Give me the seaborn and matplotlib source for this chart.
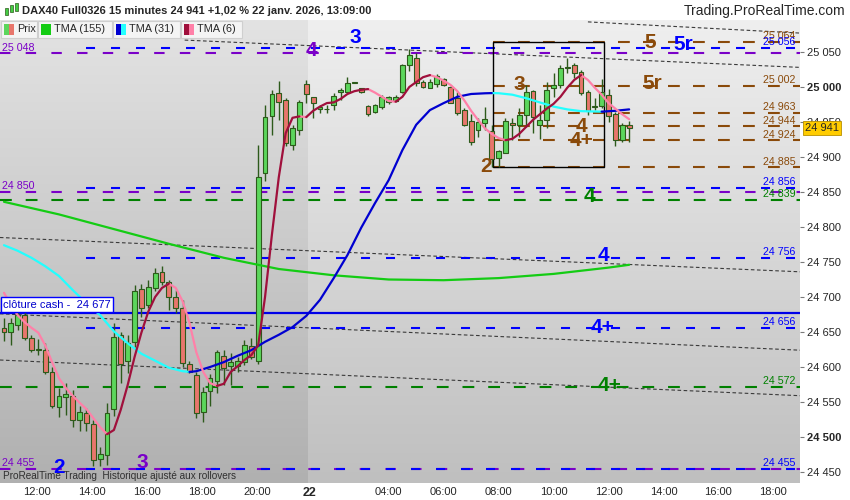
import numpy as np
import pandas as pd
import matplotlib
matplotlib.use("Agg")
import matplotlib.pyplot as plt
import matplotlib.transforms as mtransforms
from matplotlib.colors import LinearSegmentedColormap
from matplotlib.patches import Rectangle
import seaborn as sns

sns.set_style("white")
plt.rcParams['font.family'] = ['Liberation Sans', 'DejaVu Sans']
plt.rcParams['lines.scale_dashes'] = False
plt.rcParams['axes.unicode_minus'] = False

# 15 min bars, 21 janv. (from 10:45) then 22 janv. (from 01:00)
opens = [24656, 24650, 24660, 24674, 24641, 24625, 24625, 24593, 24543, 24557,
         24558, 24525, 24534, 24518, 24468, 24474, 24540, 24646, 24608, 24636,
         24711, 24689, 24713, 24736, 24722, 24700, 24684, 24604, 24589, 24536,
         24566, 24580, 24616, 24601, 24602, 24607, 24630, 24608, 24877, 24958,
         24992, 24982, 24917, 24938, 25004, 24985, 24969, 24968, 24974, 24993,
         24993, 25006, 24998, 24973, 24964, 24971, 24978, 24980, 24993, 25031,
         25041, 25007, 24998, 25004, 25011, 25000, 24984, 24967, 24951, 24938,
         24949, 24937, 24898, 24906, 24949, 24946, 24960, 24994, 24946, 24953,
         24998, 25003, 25027, 25031, 25022, 24993, 24971, 24973, 24988, 24962,
         24924, 24945]
highs = [24670, 24670, 24678, 24684, 24646, 24640, 24634, 24600, 24570, 24577,
         24567, 24544, 24541, 24524, 24486, 24548, 24663, 24650, 24646, 24717,
         24719, 24724, 24741, 24744, 24724, 24710, 24696, 24608, 24593, 24572,
         24590, 24624, 24624, 24620, 24615, 24638, 24641, 24917, 24974, 24996,
         25009, 24984, 24946, 24981, 25010, 24986, 24974, 24974, 24992, 24998,
         25014, 25007, 24999, 24974, 24975, 24988, 24987, 24988, 25033, 25054,
         25048, 25010, 25012, 25018, 25013, 25003, 24993, 24970, 24962, 24955,
         24971, 24945, 24910, 24955, 24956, 24970, 25003, 24996, 24974, 25007,
         25020, 25032, 25041, 25034, 25024, 24996, 24984, 25011, 24997, 24964,
         24949, 24952]
lows = [24637, 24631, 24653, 24639, 24622, 24617, 24590, 24541, 24529, 24531,
        24515, 24508, 24508, 24459, 24459, 24460, 24530, 24577, 24591, 24629,
        24672, 24684, 24709, 24717, 24681, 24677, 24600, 24591, 24527, 24522,
        24545, 24563, 24574, 24574, 24593, 24603, 24612, 24605, 24865, 24931,
        24953, 24915, 24910, 24931, 24977, 24955, 24963, 24963, 24967, 24981,
        24992, 25005, 24992, 24958, 24963, 24969, 24976, 24978, 24992, 25023,
        25002, 24998, 24998, 25000, 25001, 24977, 24960, 24944, 24917, 24929,
        24938, 24885, 24886, 24905, 24924, 24929, 24943, 24934, 24925, 24941,
        24985, 24998, 25020, 25013, 24989, 24960, 24967, 24970, 24950, 24915,
        24922, 24922]
closes = [24650, 24663, 24674, 24642, 24624, 24626, 24593, 24544, 24558, 24561,
          24524, 24536, 24520, 24467, 24476, 24535, 24643, 24605, 24634, 24708,
          24684, 24714, 24734, 24721, 24700, 24684, 24606, 24593, 24534, 24565,
          24584, 24622, 24598, 24607, 24608, 24631, 24615, 24871, 24957, 24990,
          24978, 24920, 24941, 24979, 24990, 24977, 24971, 24969, 24987, 24995,
          25005, 25006, 24993, 24961, 24974, 24986, 24985, 24985, 25031, 25046,
          25005, 25000, 25007, 25015, 25003, 24977, 24963, 24946, 24922, 24950,
          24954, 24897, 24908, 24952, 24946, 24960, 24993, 24957, 24953, 24996,
          25003, 25027, 25028, 25020, 24991, 24965, 24973, 24993, 24958, 24924,
          24946, 24941]

tma6 = [24706, 24689, 24674, 24664, 24656, 24649, 24631, 24607, 24584, 24570,
        24559, 24549, 24540, 24527, 24514, 24504, 24510, 24539, 24574, 24614,
        24649, 24679, 24700, 24713, 24719, 24713, 24694, 24663, 24621, 24593,
        24577, 24573, 24576, 24593, 24601, 24610, 24617, 24631, 24700, 24789,
        24871, 24934, 24956, 24958, 24957, 24966, 24972, 24977, 24978, 24983,
        24990, 24994, 24996, 24997, 24992, 24986, 24980, 24979, 24986, 25000,
        25007, 25014, 25017, 25014, 25009, 25003, 24994, 24981, 24966, 24953,
        24941, 24933, 24927, 24924, 24926, 24933, 24943, 24953, 24961, 24969,
        24976, 24986, 24999, 25010, 25017, 25010, 24999, 24989, 24977, 24969,
        24961, 24954]

tma31_bar = [0, 2, 4, 6, 8, 10, 12, 14, 16, 18, 20, 22, 24, 26, 27, 28, 30, 32,
             34, 36, 38, 40, 42, 44, 46, 48, 50, 52, 54, 56, 58, 60, 62, 64, 66,
             68, 70, 71, 72, 74, 76, 78, 80, 82, 84, 86, 87, 89, 91]
tma31 = [24774, 24766, 24756, 24744, 24730, 24710, 24691, 24674, 24651, 24634,
         24619, 24609, 24599, 24594, 24593, 24594, 24600, 24607, 24616, 24624,
         24636, 24646, 24657, 24673, 24696, 24727, 24760, 24799, 24834, 24867,
         24910, 24946, 24967, 24977, 24986, 24990, 24991, 24991.3, 24991.1, 24989,
         24984, 24978, 24972, 24968, 24965.5, 24965, 24964.8, 24966, 24968]

tma155_bar = [0, 8, 16, 24, 32, 40, 48, 56, 64, 72, 80, 88, 91]
tma155 = [24836, 24818, 24797, 24776, 24756, 24740, 24731, 24725, 24724, 24727,
          24733, 24742, 24746]

time_labels = ['12:00', '14:00', '16:00', '18:00', '20:00', '22', '04:00', '06:00',
               '08:00', '10:00', '12:00', '14:00', '16:00', '18:00']

level_prices = [25064, 25056, 25048, 25002, 24963, 24944, 24924, 24885,
                24856, 24850, 24839, 24756, 24656, 24572, 24455, 24455]
level_kinds = ['brown', 'blue', 'purple', 'brown', 'brown', 'brown', 'brown', 'brown',
               'blue', 'purple', 'green', 'blue', 'blue', 'green', 'purple', 'blue']
cash_close = 24677
last_price = 24941

wave_texts = ['4', '3', '5', '5r', '3', '5r', '4', '4+', '2', '4', '4', '4+', '4+', '2', '3']
wave_kinds = ['purple', 'blue', 'brown', 'blue', 'brown', 'brown', 'brown', 'brown',
              'brown', 'green', 'blue', 'blue', 'green', 'blue', 'purple']
wave_bar = [44.8, 51.1, 94.0, 98.9, 75.0, 94.3, 84.1, 84.1, 70.2, 85.2, 87.2, 87.2, 88.2, 8.0, 20.2]
wave_price = [25052, 25070, 25063, 25060, 25003, 25005, 24944, 24924, 24886,
              24843, 24760, 24657, 24573, 24457, 24464]

# dotted channel lines (bar, price) -> (bar, price)
trend_b0 = [26.3, 85.0, -0.6, -0.6, -0.6]
trend_p0 = [25067, 25093, 24785, 24676, 24610]
trend_b1 = [115.9, 115.9, 115.9, 115.9, 115.9]
trend_p1 = [25028, 25077, 24736, 24624, 24559]

box_bars = [71.2, 87.3]
box_prices = [24885, 25064]

# ---- styling ----
COL = {'brown': '#8a4a0a', 'blue': '#0000ff', 'purple': '#7a00c8', 'green': '#008000'}
DASH = {'brown': (0, (8.5, 9.5)), 'blue': (0, (6.5, 11.5)),
        'purple': (0, (7.5, 11)), 'green': (0, (8.5, 10))}
LEVEL_START = {'brown': box_bars[0], 'blue': 12, 'purple': -1, 'green': -1}
XMIN, XMAX = -0.58, 115.87
YMIN, YMAX = 24434.3, 25095.7
SPLIT = 44.3


def fmt(p):
    return f"{int(round(p)):,}".replace(",", " ")


def dir_runs(xs, ys):
    rows, run, prev = [], 0, None
    for k in range(len(xs) - 1):
        d = 'up' if ys[k + 1] >= ys[k] else 'down'
        if d != prev:
            run += 1
            prev = d
            rows.append((xs[k], ys[k], run, d))
        rows.append((xs[k + 1], ys[k + 1], run, d))
    return pd.DataFrame(rows, columns=['i', 'v', 'run', 'dir'])


fig = plt.figure(figsize=(8.5, 5), dpi=100)
fig.patch.set_facecolor('white')
ax = fig.add_axes([0, 17 / 500, 800 / 850, 463 / 500])

# background gradients (previous day darker)
grad = np.linspace(0, 1, 256).reshape(-1, 1)
for x0, x1, top, bot in [(XMIN, SPLIT, '#e3e3e3', '#b0b0b0'), (SPLIT, XMAX, '#efefef', '#bfbfbf')]:
    cmap = LinearSegmentedColormap.from_list('bg', [top, bot])
    ax.imshow(grad, cmap=cmap, aspect='auto', extent=[x0, x1, YMIN, YMAX],
              origin='upper', zorder=0, interpolation='bilinear')

# channel lines
for b0, p0, b1, p1 in zip(trend_b0, trend_p0, trend_b1, trend_p1):
    ax.plot([b0, b1], [p0, p1], color='#3a3a3a', lw=0.8, ls=(0, (2.6, 1.8)), zorder=1.5)

# horizontal levels
blend = mtransforms.blended_transform_factory(ax.transAxes, ax.transData)
for p, kind in zip(level_prices, level_kinds):
    start = max(LEVEL_START[kind], XMIN)
    ax.plot([start, XMAX], [p, p], color=COL[kind], lw=1.5, ls=DASH[kind], zorder=2)
    if kind == 'purple':
        ax.annotate(fmt(p), xy=(0, p), xycoords=blend, xytext=(1.5, 0.5),
                    textcoords='offset points', ha='left', va='bottom',
                    fontsize=7.7, color=COL[kind], zorder=5)
    else:
        ax.annotate(fmt(p), xy=(1, p), xycoords=blend, xytext=(-3, 0.5),
                    textcoords='offset points', ha='right', va='bottom',
                    fontsize=7.7, color=COL[kind], zorder=5)

ax.axhline(cash_close, color='#0000e8', lw=1.6, zorder=2)
ax.annotate(f"clôture cash -  {fmt(cash_close)}", xy=(0, cash_close), xycoords=blend,
            xytext=(2.5, 2.5), textcoords='offset points', ha='left', va='bottom',
            fontsize=8, color='#0000cc', zorder=6,
            bbox=dict(boxstyle='square,pad=0.2', fc='white', ec='#0000ff', lw=1))

ax.add_patch(Rectangle((box_bars[0], box_prices[0]), box_bars[1] - box_bars[0],
                       box_prices[1] - box_prices[0], fill=False, ec='black', lw=1, zorder=2.5))

# candles
candles = pd.DataFrame({'o': opens, 'h': highs, 'l': lows, 'c': closes})
candles['i'] = np.arange(len(candles))
candles['up'] = candles['c'] >= candles['o']
ax.vlines(candles['i'], candles['l'], candles['h'], color='#2d5a1b', lw=1.0, zorder=3)
ax.bar(candles['i'], np.maximum((candles['c'] - candles['o']).abs(), 1.0),
       bottom=np.minimum(candles['o'], candles['c']), width=0.7,
       color=np.where(candles['up'], '#5cd65c', '#e8766c'),
       edgecolor='#2d5a1b', linewidth=0.8, zorder=3.2)

# moving averages
sns.lineplot(x=tma155_bar, y=tma155, color='#14cc14', linewidth=1.6, ax=ax, zorder=4)
df31 = dir_runs(tma31_bar, tma31)
sns.lineplot(data=df31, x='i', y='v', hue='dir', units='run', estimator=None, sort=False,
             palette={'up': '#0000d0', 'down': '#22ffff'}, legend=False, linewidth=1.6,
             ax=ax, zorder=4)
df6 = dir_runs(list(range(len(tma6))), tma6)
sns.lineplot(data=df6, x='i', y='v', hue='dir', units='run', estimator=None, sort=False,
             palette={'up': '#a0103c', 'down': '#ff80a8'}, legend=False, linewidth=1.6,
             ax=ax, zorder=4.1)

# wave labels
for t, kind, b, p in zip(wave_texts, wave_kinds, wave_bar, wave_price):
    ax.text(b, p, t, color=COL[kind], fontsize=15, fontweight='bold',
            ha='center', va='center', zorder=6)

ax.set_xlim(XMIN, XMAX)
ax.set_ylim(YMIN, YMAX)
ax.set_xlabel('')
ax.set_ylabel('')
for s in ax.spines.values():
    s.set_visible(False)

yt = list(range(24450, 25051, 50))
ax.set_yticks(yt)
ax.set_yticklabels([fmt(v) for v in yt])
ax.tick_params(axis='y', which='both', direction='out', length=3, width=0.8, color='#7a7a7a',
               pad=2, labelsize=8, right=True, left=False, labelright=True, labelleft=False)
for lbl, v in zip(ax.get_yticklabels(), yt):
    if v % 500 == 0:
        lbl.set_fontweight('bold')

tick_pos = [4.8, 12.8, 20.8, 28.8, 36.8, 44.5, 56, 64, 72, 80, 88, 96, 104, 112]
ax.set_xticks(tick_pos)
ax.set_xticklabels(time_labels)
ax.tick_params(axis='x', length=0, pad=3, labelsize=8)
for lbl in ax.get_xticklabels():
    if lbl.get_text() == '22':
        lbl.set_fontweight('bold')
        lbl.set_fontsize(9)

# last price marker
ax.annotate(fmt(last_price), xy=(1, last_price), xycoords=blend, xytext=(3.5, 0),
            textcoords='offset points', ha='left', va='center', fontsize=8,
            annotation_clip=False, zorder=10,
            bbox=dict(boxstyle='square,pad=0.18', fc='#ffcc00', ec='#b89000', lw=0.6))

ax.text(0.004, 7 / 463, 'ProRealTime Trading  Historique ajusté aux rollovers',
        transform=ax.transAxes, fontsize=7.2, color='#303030', ha='left', va='center', zorder=6)

# header
fig.text(22 / 850, 1 - 11 / 500, 'DAX40 Full0326 15 minutes 24 941 +1,02 % 22 janv. 2026, 13:09:00',
         fontsize=8, fontweight='bold', va='center', ha='left')
fig.text(845 / 850, 1 - 11 / 500, 'Trading.ProRealTime.com', fontsize=10, va='center', ha='right')
for (x0, y0, w, h, c) in [(5, 8, 3, 7, '#44cc44'), (10, 5, 3, 7, '#44cc44'), (15, 3, 3, 8, '#44cc44')]:
    fig.add_artist(Rectangle((x0 / 850, 1 - (y0 + h) / 500), w / 850, h / 500,
                             transform=fig.transFigure, fc=c, ec='#2d5a1b', lw=0.5))

# legend strip
legend_items = [('Prix', '#5cd65c', '#e8766c', 1, 37),
                ('TMA (155)', '#14cc14', '#14cc14', 38, 112),
                ('TMA (31)', '#0000d0', '#22ffff', 113, 180),
                ('TMA (6)', '#a0103c', '#ff80a8', 181, 242)]
for name, c1, c2, xa, xb in legend_items:
    fig.add_artist(Rectangle((xa / 850, 1 - 38 / 500), (xb - xa) / 850, 17 / 500,
                             transform=fig.transFigure, fc='#f4f4f4', ec='#cfcfcf', lw=0.8))
    fig.add_artist(Rectangle(((xa + 3) / 850, 1 - 34.5 / 500), 5 / 850, 10 / 500,
                             transform=fig.transFigure, fc=c1, ec='none'))
    fig.add_artist(Rectangle(((xa + 8) / 850, 1 - 34.5 / 500), 5 / 850, 10 / 500,
                             transform=fig.transFigure, fc=c2, ec='none'))
    fig.text((xa + 16) / 850, 1 - 29.5 / 500, name, fontsize=7.8, va='center', ha='left')

fig.savefig('out.png', dpi=100)
